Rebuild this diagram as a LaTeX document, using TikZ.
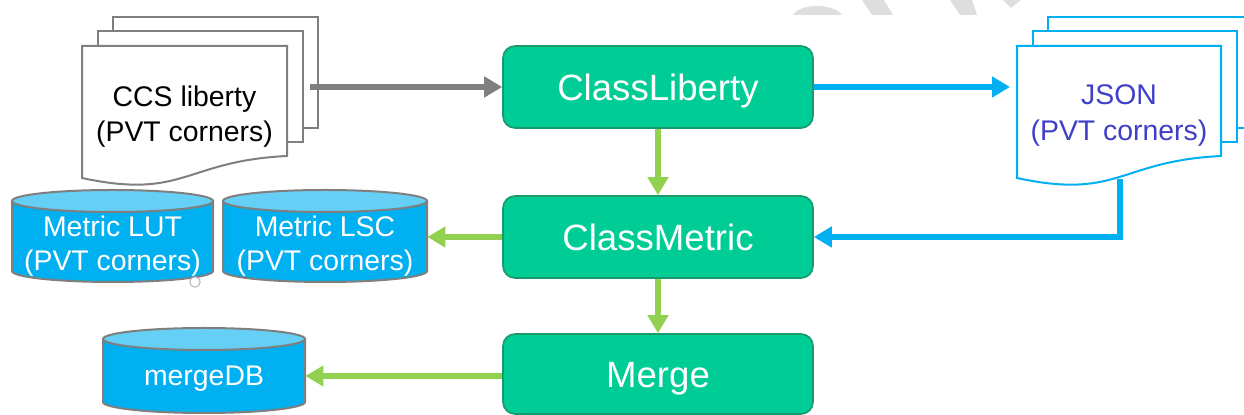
\documentclass[tikz,border=0pt]{standalone}
\usepackage{fontspec}
\setmainfont{Liberation Sans}
\usetikzlibrary{arrows.meta}

\definecolor{stepfill}{HTML}{00CC96}
\definecolor{stepline}{HTML}{1A9A6C}
\definecolor{skyblue}{HTML}{00B0F0}
\definecolor{drumtop}{HTML}{66CFF5}
\definecolor{leafgreen}{HTML}{92D050}
\definecolor{irongray}{HTML}{7F7F7F}
\definecolor{inkblue}{HTML}{3F3FC8}
\definecolor{markgray}{HTML}{DEDEDE}

% a stack of three pages; the front one has a wavy lower edge
% #1 left x, #2 width, #3 line style
\newcommand\pagestack[3]{%
  \draw[#3, fill=white] ({#1+31},17) rectangle ({#1+#2+31},128);
  \draw[#3, fill=white] ({#1+15.5},31.5) rectangle ({#1+#2+15.5},142);
  \draw[#3, fill=white] (#1,46) -- ({#1+#2},46) -- ({#1+#2},156)
    .. controls ({#1+#2/2},161) and ({#1+#2/2},200) .. (#1,178) -- cycle;
}

% a database drum: #1 left x, #2 right x, #3 top rim y, #4 bottom rim y
\newcommand\dbdrum[4]{%
  \pgfmathsetmacro\drumrx{(#2-#1)/4}
  \draw[drumline, fill=skyblue] (#1,#3) -- (#1,#4)
    arc[start angle=180, end angle=360, x radius=\drumrx pt, y radius=5.5pt]
    -- (#2,#3) -- cycle;
  \draw[drumline, fill=drumtop] ({(#1+#2)/2},#3)
    ellipse[x radius=\drumrx pt, y radius=5.5pt];
}

\begin{document}
\begin{tikzpicture}[x=0.5pt, y=-0.5pt,
  stepbox/.style={draw=stepline, line width=0.8pt, fill=stepfill,
    rounded corners=6pt, minimum width=155pt, minimum height=41pt,
    inner sep=0pt, text=white, text height=13.1pt, text depth=0pt,
    font=\fontsize{18.3}{22}\selectfont},
  smalltext/.style={align=center, inner sep=0pt,
    font=\fontsize{14.2}{17.2}\selectfont},
  drumtext/.style={smalltext, text=white, minimum height=20pt},
  drumline/.style={draw=irongray, line width=1pt},
  grayleaf/.style={draw=irongray, line width=1pt},
  blueleaf/.style={draw=skyblue, line width=1pt},
  flow/.style={line width=3pt, -{Triangle[length=9pt, width=10pt]}},
]
\useasboundingbox (0,0) rectangle (1244,415);
\clip (0,0) rectangle (1244,415);

% faint marks along the top edge
\fill[markgray] (793,15) .. controls (800,3) and (834,3) .. (842,15) -- cycle;
\fill[markgray] (862,0) -- (884,0) -- (893,15) -- (872,15) -- cycle;
\fill[markgray] (950,0) -- (972,0) -- (977,15) -- (960,15) -- cycle;
\fill[markgray] (1003,0) -- (1021,0) -- (1011,8) -- cycle;

% process steps
\node[stepbox] (cl) at (658,87) {ClassLiberty};
\node[stepbox] (cm) at (658,237) {ClassMetric};
\node[stepbox, minimum height=40pt] (mg) at (658,374) {Merge};

% input and intermediate files
\pagestack{82}{205}{grayleaf}
\node[smalltext] (ccs) at (184.5,116.5) {CCS liberty\\(PVT corners)};
\coordinate (ccsout) at (310,87);

\pagestack{1017}{204}{blueleaf}
\node[smalltext, text=inkblue, font=\fontsize{14.2}{17.8}\selectfont] (json) at (1119,115.5) {JSON\\(PVT corners)};
\coordinate (jsonin) at (1017,87);
\coordinate (jsonout) at (1120,179);

% databases
\dbdrum{12}{213}{201}{271}
\node[drumtext, minimum width=100.5pt] (lut) at (112.5,246) {Metric LUT\\(PVT corners)};
\dbdrum{223}{427}{201}{271}
\node[drumtext, minimum width=102pt] (lsc) at (325,246) {Metric LSC\\(PVT corners)};
\dbdrum{103}{305}{339}{402}
\node[drumtext, minimum width=101pt] (mdb) at (204,379) {mergeDB};

\draw[irongray!60, fill=white, line width=0.5pt] (195,282) circle[radius=2.6pt];

% connectors
\draw[flow, irongray] (ccsout) -- (cl.west);
\draw[flow, skyblue, shorten >=3.5pt] (cl.east) -- (jsonin);
\draw[flow, skyblue] (jsonout) |- (cm.east);
\draw[flow, leafgreen] (cl.south) -- (cm.north);
\draw[flow, leafgreen] (cm.south) -- (mg.north);
\draw[flow, leafgreen] (cm.west) -- (cm.west -| lsc.east);
\draw[flow, leafgreen] ([yshift=-1pt]mg.west) -- ([yshift=-1pt]mg.west -| mdb.east);
\end{tikzpicture}
\end{document}
